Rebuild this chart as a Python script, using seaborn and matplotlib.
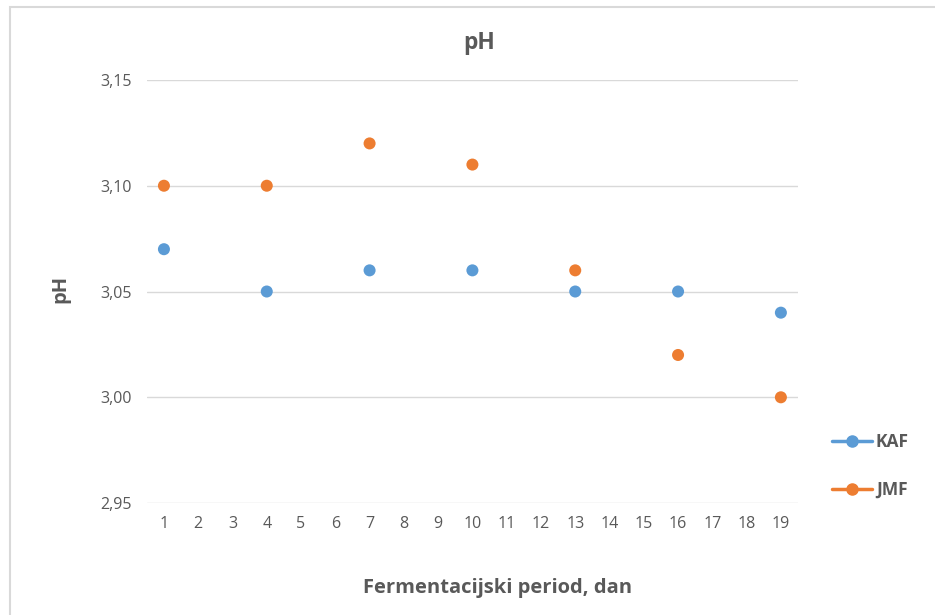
import matplotlib
matplotlib.use("Agg")
import matplotlib.pyplot as plt
from matplotlib.lines import Line2D
from matplotlib.patches import Rectangle
import seaborn as sns
import pandas as pd

days = [1, 4, 7, 10, 13, 16, 19]
kaf = [3.07, 3.05, 3.06, 3.06, 3.05, 3.05, 3.04]
jmf = [3.10, 3.10, 3.12, 3.11, 3.06, 3.02, 3.00]
x_ticks = list(range(1, 20))
y_ticks = [2.95, 3.00, 3.05, 3.10, 3.15]
colors = {"KAF": "#5B9BD5", "JMF": "#ED7D31"}

df = pd.concat([
    pd.DataFrame({"dan": days, "pH": kaf, "serija": "KAF"}),
    pd.DataFrame({"dan": days, "pH": jmf, "serija": "JMF"}),
])

sns.set_style("white")
plt.rcParams["font.family"] = ["Open Sans", "DejaVu Sans"]
grey = "#595959"

fig = plt.figure(figsize=(9.35, 6.15), dpi=100)
ax = fig.add_axes([0.157, 0.182, 0.6965, 0.688])

# chart border (Excel chart area)
fig.patches.append(Rectangle((10 / 935, -0.1), 1.1, 1 - 7 / 615 + 0.1,
                             transform=fig.transFigure, fill=False,
                             edgecolor="#D9D9D9", linewidth=1.5))

sns.scatterplot(data=df, x="dan", y="pH", hue="serija", palette=colors,
                s=75, edgecolor="none", ax=ax, legend=False, zorder=3)

ax.set_xlim(0.5, 19.5)
ax.set_ylim(2.95, 3.15)
ax.set_xticks(x_ticks)
ax.set_xticklabels([str(t) for t in x_ticks], color=grey, fontsize=11.5)
ax.set_yticks(y_ticks)
ax.set_yticklabels([f"{v:.2f}".replace(".", ",") for v in y_ticks],
                   color=grey, fontsize=11.5)
ax.tick_params(length=0, pad=9)
ax.tick_params(axis="y", pad=11)
ax.grid(axis="y", color="#D9D9D9", linewidth=1)
ax.grid(axis="x", visible=False)
for s in ax.spines.values():
    s.set_visible(False)

ax.set_xlabel("")
ax.set_ylabel("")
fig.text(498 / 935, 1 - 588 / 615, "Fermentacijski period, dan", ha="center",
         va="center", fontsize=14.5, fontweight="bold", color=grey)
fig.text(60 / 935, 1 - 289 / 615, "pH", ha="center", va="center",
         rotation=90, fontsize=14.5, fontweight="bold", color=grey)
fig.text(479 / 935, 1 - 43 / 615, "pH", ha="center", va="center",
         fontsize=16.5, fontweight="bold", color=grey)

handles = [Line2D([0], [0], color=colors[k], marker="o", markersize=8,
                  linewidth=2.5) for k in ["KAF", "JMF"]]
leg = fig.legend(handles, ["KAF", "JMF"], loc="center left",
                 bbox_to_anchor=(816 / 935, 1 - 466 / 615), frameon=False,
                 labelspacing=1.75, handlelength=2.3, handletextpad=0.25,
                 prop={"weight": "bold", "size": 12.5})
for t in leg.get_texts():
    t.set_color(grey)

fig.savefig("out.png", dpi=100)
